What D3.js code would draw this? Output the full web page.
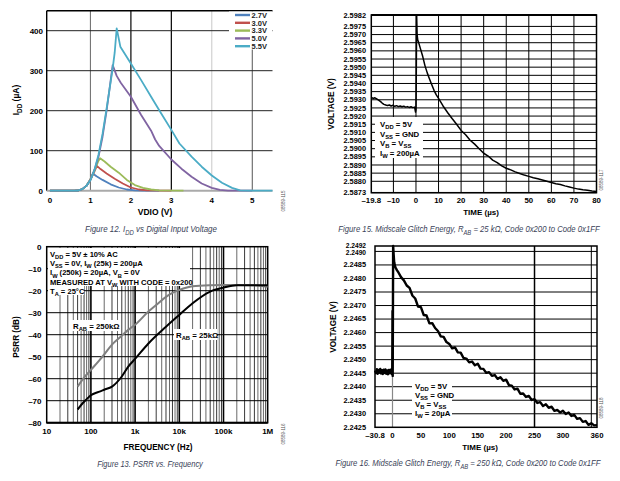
<!DOCTYPE html>
<html><head><meta charset="utf-8">
<script src="https://cdn.jsdelivr.net/npm/d3@7"></script>
<style>body{margin:0;background:#fff}svg{display:block}</style>
</head><body><svg id="c" width="620" height="481"></svg>
<script>
// ---------- Figure 12 data ----------
const legendLabels = ["2.7V","3.0V","3.3V","5.0V","5.5V"];
const vdio27 = [0,0.6,0.7,0.8,0.9,1.0,1.06,1.15,1.3,1.5,1.7,1.9,2.1,2.3,2.7];
const idd27  = [0,0,0.5,4,12,28,43,36,27,16,8,3,1,0,0];
const vdio30 = [0,0.6,0.7,0.8,0.9,1.0,1.1,1.16,1.25,1.4,1.6,1.8,2.0,2.2,2.4,3.0];
const idd30  = [0,0,0.5,4,12,28,48,62,54,43,30,18,8,3,1,0];
const vdio33 = [0,0.6,0.7,0.8,0.9,1.0,1.1,1.2,1.24,1.35,1.5,1.7,1.9,2.1,2.3,2.5,2.7,3.3];
const idd33  = [0,0,0.5,4,12,28,50,75,81,73,60,45,27,14,7,3,1,0];
const vdio50 = [0,0.6,0.7,0.8,0.9,1.0,1.1,1.2,1.3,1.4,1.5,1.55,1.65,1.75,2.0,2.25,2.5,2.6,2.7,3.0,3.25,3.5,3.75,4.0,4.2,4.4,5.0];
const idd50  = [0,0,0.5,4,12,27,52,85,135,200,275,314,287,270,235,190,150,128,112,78,55,35,18,7,2,0,0];
const vdio55 = [0,0.6,0.7,0.8,0.9,1.0,1.1,1.2,1.3,1.4,1.5,1.55,1.6,1.65,1.74,2.0,2.25,2.5,2.75,3.0,3.2,3.5,3.75,4.0,4.25,4.5,4.7,4.9,5.5];
const idd55  = [0,0,0.5,4,12,26,52,90,142,205,272,305,345,406,360,318,277,235,193,152,118,85,60,38,20,7,1,0,0];
const fig12XTicks = [0,1,2,3,4,5];
const fig12YTicks = [0,100,200,300,400];

// ---------- Figure 15 data ----------
const t25 = [-19.8,-19,-18.2,-17.4,-16.6,-15.8,-15,-14.2,-13.4,-12.6,-11.8,-11,-10.2,-9.4,-8.6,-7.8,-7,-6.2,-5.4,-4.6,-3.8,-3,-2.2,-1.4,-0.6,-0.2,0,0.1,0.3,0.5,0.8,1,2,3,4,5,6,7,8,9,10,12,14,16,18,20,22,24,26,28,30,32,34,36,38,40,42,44,46,48,50,52,54,56,58,60,62,64,66,68,70,72,74,76,78,80];
const v25 = [2.59315,2.59308,2.59312,2.59305,2.59298,2.59290,2.59280,2.59272,2.59268,2.59265,2.59268,2.59262,2.59266,2.59260,2.59264,2.59258,2.59262,2.59257,2.59261,2.59255,2.59258,2.59253,2.59257,2.59252,2.59255,2.59225,2.59240,2.59380,2.59820,2.59700,2.59665,2.59660,2.59612,2.59565,2.59508,2.59465,2.59428,2.59392,2.59358,2.59330,2.59308,2.59262,2.59222,2.59185,2.59150,2.59112,2.59085,2.59052,2.59028,2.59000,2.58972,2.58955,2.58930,2.58915,2.58895,2.58880,2.58870,2.58858,2.58848,2.58838,2.58830,2.58822,2.58815,2.58808,2.58800,2.58792,2.58785,2.58780,2.58772,2.58765,2.58758,2.58752,2.58748,2.58745,2.58740,2.58738];
const fig15XTicks = [-19.8,-10,0,10,20,30,40,50,60,70,80];
const fig15YTicks = [2.5982,2.5975,2.5970,2.5965,2.5960,2.5955,2.5950,2.5945,2.5940,2.5935,2.5930,2.5925,2.5920,2.5915,2.5910,2.5905,2.5900,2.5895,2.5890,2.5885,2.5880,2.5873];

// ---------- Figure 13 data ----------
const freq250 = [50,70,100,150,200,300,500,700,1000,2000,3000,5000,7000,10000,20000,50000,100000,200000,500000,1000000];
const psrr250 = [-63.6,-59.5,-56,-52,-49,-44.5,-40.5,-37.8,-35.5,-29.5,-26.5,-22.8,-21,-19.7,-18,-17.5,-17.4,-17.4,-17.5,-18.2];
const freq25  = [50,70,100,150,200,300,500,700,1000,2000,5000,10000,20000,50000,100000,200000,500000,1000000];
const psrr25  = [-74,-70.5,-67.5,-66,-65,-63.6,-59,-54.5,-51,-44,-36.4,-31,-25.7,-20.4,-18.6,-17.5,-17.5,-17.5];
const fig13XTicks = [10,100,1000,10000,100000,1000000];
const fig13XLabels = ["10","100","1k","10k","100k","1M"];
const fig13YTicks = [0,-10,-20,-30,-40,-50,-60,-70,-80];

// ---------- Figure 16 data ----------
const t250 = [-30.8,-29,-27.5,-26,-24.5,-23,-21.5,-20,-18.5,-17,-15.5,-14,-12.5,-11,-9.5,-8,-6.5,-5,-3.5,-2,-1,
  -0.5,0,0.4,1.2,2,3,4.5,6,8,
  10,15,20,25,30,35,40,45,50,55,60,65,70,75,80,85,90,95,100,105,110,115,120,125,130,135,140,145,150,155,160,165,170,175,180,185,190,195,200,205,210,215,220,225,230,235,240,245,250,255,260,265,270,275,280,285,290,295,300,305,310,315,320,325,330,335,340,345,350,355,360];
const v250 = [2.24460,2.24450,2.24465,2.24448,2.24462,2.24452,2.24466,2.24449,2.24461,2.24447,2.24463,2.24451,2.24464,2.24448,2.24460,2.24446,2.24462,2.24450,2.24463,2.24449,2.24458,
  2.24445,2.24680,2.24440,2.24920,2.24890,2.24860,2.24845,2.24838,2.24830,
  2.24824,2.24805,2.24793,2.24774,2.24765,2.24737,2.24726,2.24696,2.24694,2.24665,2.24663,2.24634,2.24635,2.24617,2.24606,2.24586,2.24584,2.24565,2.24558,2.24542,2.24545,2.24527,2.24526,2.24506,2.24504,2.24490,2.24493,2.24479,2.24485,2.24467,2.24466,2.24451,2.24454,2.24440,2.24443,2.24429,2.24435,2.24422,2.24426,2.24406,2.24404,2.24390,2.24393,2.24374,2.24375,2.24362,2.24366,2.24351,2.24354,2.24340,2.24343,2.24329,2.24335,2.24322,2.24326,2.24311,2.24314,2.24305,2.24311,2.24299,2.24305,2.24292,2.24296,2.24281,2.24284,2.24270,2.24273,2.24259,2.24265,2.24257,2.24258];
const fig16XTicks = [-30.8,0,50,100,150,200,250,300,360];
const fig16YTicks = [2.2492,2.2490,2.2485,2.2480,2.2475,2.2470,2.2465,2.2460,2.2455,2.2450,2.2445,2.2440,2.2435,2.2430,2.2425];

// ---------- drawing ----------
const FONT = "'Liberation Sans', Arial, sans-serif";
const svg = d3.select("#c");
svg.append("rect").attr("width",620).attr("height",481).attr("fill","#fff");

function rich(g, x, y, str, o) {
  const size = o.size || 8;
  const t = g.append("text").attr("x", o.len ? 0 : x).attr("y", o.len ? 0 : y)
    .attr("font-family", FONT).attr("font-size", size)
    .attr("font-weight", o.weight || "bold")
    .attr("text-anchor", o.anchor || "start")
    .attr("fill", o.fill || "#000");
  if (o.italic) t.attr("font-style", "italic");
  if (o.rotate) t.attr("transform", `rotate(-90,${x},${y})`);
  const parts = str.split(/(_\{[^}]*\})/).filter(p => p.length);
  let sub = false; const sh = size * 0.3;
  parts.forEach(p => {
    if (p.startsWith("_{")) {
      t.append("tspan").attr("dy", sub ? 0 : sh).attr("font-size", size * 0.75).text(p.slice(2, -1));
      sub = true;
    } else {
      t.append("tspan").attr("dy", sub ? -sh : 0).text(p);
      sub = false;
    }
  });
  if (o.len) {
    const w = t.node().getComputedTextLength();
    const s = w > 0 ? o.len / w : 1;
    t.attr("transform", `translate(${x},${y}) scale(${s},1)`);
  }
  return t;
}
function hline(g, x1, x2, y, c, w) { g.append("line").attr("x1",x1).attr("x2",x2).attr("y1",y).attr("y2",y).attr("stroke",c).attr("stroke-width",w); }
function vline(g, x, y1, y2, c, w) { g.append("line").attr("x1",x).attr("x2",x).attr("y1",y1).attr("y2",y2).attr("stroke",c).attr("stroke-width",w); }
const CAP = "#3a3f58";

// ===== Figure 12 =====
{
  const g = svg.append("g");
  const x = d3.scaleLinear().domain([-0.08, 5.5]).range([46.7, 272.5]);
  const y = d3.scaleLinear().domain([0, 450]).range([190.7, 10.7]);
  const vcols = {1:"#666",2:"#444",3:"#000",4:"#c8c8c8",5:"#555"};
  const vw = {1:1,2:1.6,3:1.2,4:1,5:1};
  fig12XTicks.filter(d => d > 0).forEach(d => vline(g, x(d), y(450), y(0), vcols[d], vw[d]));
  fig12YTicks.filter(d => d > 0).forEach(d => hline(g, x(-0.08), x(5.5), y(d), "#222", 1));
  hline(g, x(-0.08), x(5.5), y(450), "#000", 1.4);
  vline(g, x(-0.08), y(450), y(0), "#000", 1.4);
  hline(g, x(-0.08), x(5.5), y(0), "#aaa", 2);
  const series = [[vdio27,idd27],[vdio30,idd30],[vdio33,idd33],[vdio50,idd50],[vdio55,idd55]];
  const colors = ["#4f81bd","#c0504d","#9bbb59","#8064a2","#4bacc6"];
  const line = d3.line().x(d => x(d[0])).y(d => y(d[1]));
  series.forEach((s, i) => {
    g.append("path").datum(d3.zip(s[0], s[1])).attr("d", line)
      .attr("fill","none").attr("stroke", colors[i]).attr("stroke-width", 1.8).attr("stroke-linejoin","round");
  });
  // legend
  g.append("rect").attr("x", 229).attr("y", 11.5).attr("width", 43).attr("height", 38).attr("fill", "#fff");
  legendLabels.forEach((l, i) => {
    const ly = 15 + i * 7.8;
    hline(g, 235, 250, ly, colors[i], 2.4);
    g.append("text").attr("x", 251.5).attr("y", ly + 2.8).attr("font-family", FONT).attr("font-size", 7.5)
      .attr("font-weight","bold").attr("fill","#222").text(l);
  });
  fig12YTicks.forEach(d => g.append("text").attr("x", 43).attr("y", y(d) + 2.8).attr("text-anchor","end")
    .attr("font-family", FONT).attr("font-size", 8).attr("font-weight","bold").text(d));
  fig12XTicks.forEach(d => g.append("text").attr("x", x(d)).attr("y", 202.5).attr("text-anchor","middle")
    .attr("font-family", FONT).attr("font-size", 8).attr("font-weight","bold").text(d));
  rich(g, 155, 214.5, "VDIO (V)", {size: 8.5, anchor: "middle"});
  rich(g, 19, 100, "I_{DD} (µA)", {size: 8.5, anchor: "middle", rotate: true});
  rich(g, 151, 232, "Figure 12. I_{DD} vs Digital Input Voltage", {size: 8.5, weight: "normal", italic: true, anchor: "middle", len: 132, fill: CAP});
  rich(g, 285, 201, "08589-115", {size: 4.5, weight: "normal", anchor: "middle", rotate: true, fill: "#555"});
}

// ===== Figure 15 =====
{
  const g = svg.append("g");
  const x = d3.scaleLinear().domain([-19.8, 80]).range([371.3, 596.5]);
  const y = d3.scaleLinear().domain([2.5873, 2.5982]).range([192.7, 15]);
  fig15YTicks.forEach(d => hline(g, x(-19.8), x(80), y(d), "#000", 1));
  fig15XTicks.slice(1, -1).forEach(d => vline(g, x(d), y(2.5982), y(2.5873), "#000", 1));
  g.append("rect").attr("x", x(-19.8)).attr("y", y(2.5982)).attr("width", x(80) - x(-19.8)).attr("height", y(2.5873) - y(2.5982))
    .attr("fill","none").attr("stroke","#000").attr("stroke-width",1.5);
  hline(g, x(-19.8), x(80), y(2.5982), "#000", 2);
  // annotation box
  g.append("rect").attr("x", 375).attr("y", 117).attr("width", 48).attr("height", 41).attr("fill", "#fff");
  ["V_{DD} = 5V","V_{SS} = GND","V_{B} = V_{SS}","I_{W} = 200µA"].forEach((s, i) =>
    rich(g, 380, 127 + i * 9.5, s, {size: 7.8}));
  const line = d3.line().x(d => x(d[0])).y(d => y(d[1]));
  g.append("path").datum(d3.zip(t25, v25)).attr("d", line).attr("fill","none").attr("stroke","#000").attr("stroke-width",1.5).attr("stroke-linejoin","round");
  fig15YTicks.forEach(d => g.append("text").attr("x", 366).attr("y", y(d) + 2.6).attr("text-anchor","end")
    .attr("font-family", FONT).attr("font-size", 7.4).attr("font-weight","bold").text(d3.format(".4f")(d)));
  fig15XTicks.forEach(d => g.append("text").attr("x", x(d)).attr("y", 203).attr("text-anchor","middle")
    .attr("font-family", FONT).attr("font-size", 7.8).attr("font-weight","bold").text(d < 0 ? "–" + Math.abs(d) : d));
  rich(g, 481, 214.5, "TIME (µs)", {size: 8, anchor: "middle"});
  rich(g, 334, 104, "VOLTAGE (V)", {size: 8.2, anchor: "middle", rotate: true});
  rich(g, 469, 232, "Figure 15. Midscale Glitch Energy, R_{AB} = 25 kΩ, Code 0x200 to Code 0x1FF", {size: 8.5, weight: "normal", italic: true, anchor: "middle", len: 262, fill: CAP});
  rich(g, 603, 180, "08589-117", {size: 4.5, weight: "normal", anchor: "middle", rotate: true, fill: "#555"});
}

// ===== Figure 13 =====
{
  const g = svg.append("g");
  const x = d3.scaleLog().domain([10, 1e6]).range([46.7, 267.7]);
  const y = d3.scaleLinear().domain([-80, 0]).range([422.7, 246.7]);
  [10,100,1000,10000,100000].forEach(dec => {
    for (let k = 2; k <= 9; k++) vline(g, x(dec * k), y(0), y(-80), (k % 2 ? "#3a3a3a" : "#6a6a6a"), 1);
  });
  fig13XTicks.slice(1, -1).forEach(d => vline(g, x(d), y(0), y(-80), "#000", 1.6));
  fig13YTicks.slice(1, -1).forEach(d => hline(g, x(10), x(1e6), y(d), "#000", 1));
  g.append("rect").attr("x", x(10)).attr("y", y(0)).attr("width", x(1e6) - x(10)).attr("height", y(-80) - y(0))
    .attr("fill","none").attr("stroke","#000").attr("stroke-width",1.5);
  hline(g, x(10), x(1e6), y(-80), "#000", 2);
  g.append("rect").attr("x", 48).attr("y", 248).attr("width", 142).attr("height", 38).attr("fill", "#fff");
  g.append("rect").attr("x", 48).attr("y", 285).attr("width", 36).attr("height", 10).attr("fill", "#fff");
  ["V_{DD} = 5V ± 10% AC","V_{SS} = 0V, I_{W} (25k) = 200µA","I_{W} (250k) = 20µA, V_{B} = 0V","MEASURED AT V_{W} WITH CODE = 0x200","T_{A} = 25°C"]
    .forEach((s, i) => rich(g, 50, 257 + i * 9.2, s, {size: 7.6}));
  const line = d3.line().x(d => x(d[0])).y(d => y(d[1])).curve(d3.curveMonotoneX);
  g.append("path").datum(d3.zip(freq250, psrr250)).attr("d", line).attr("fill","none").attr("stroke","#7f7f7f").attr("stroke-width",2);
  g.append("path").datum(d3.zip(freq25, psrr25)).attr("d", line).attr("fill","none").attr("stroke","#000").attr("stroke-width",2);
  g.append("rect").attr("x", 71).attr("y", 320).attr("width", 49).attr("height", 11).attr("fill", "#fff");
  rich(g, 73, 328.5, "R_{AB} = 250kΩ", {size: 7.8});
  g.append("rect").attr("x", 174).attr("y", 329).attr("width", 43).attr("height", 11).attr("fill", "#fff");
  rich(g, 176, 337.5, "R_{AB} = 25kΩ", {size: 7.8});
  fig13YTicks.forEach(d => g.append("text").attr("x", 41.5).attr("y", y(d) + 2.8).attr("text-anchor","end")
    .attr("font-family", FONT).attr("font-size", 8).attr("font-weight","bold").text(d < 0 ? "–" + Math.abs(d) : d));
  fig13XTicks.forEach((d, i) => g.append("text").attr("x", x(d)).attr("y", 433.5).attr("text-anchor","middle")
    .attr("font-family", FONT).attr("font-size", 8).attr("font-weight","bold").text(fig13XLabels[i]));
  rich(g, 158, 449.5, "FREQUENCY (Hz)", {size: 8.2, anchor: "middle"});
  rich(g, 19, 337, "PSRR (dB)", {size: 8.2, anchor: "middle", rotate: true});
  rich(g, 150, 467, "Figure 13. PSRR vs. Frequency", {size: 8.5, weight: "normal", italic: true, anchor: "middle", len: 106, fill: CAP});
  rich(g, 285, 434, "08589-116", {size: 4.5, weight: "normal", anchor: "middle", rotate: true, fill: "#555"});
}

// ===== Figure 16 =====
{
  const g = svg.append("g");
  const x = d3.scaleLinear().domain([-30.8, 360]).range([375, 597]);
  const y = d3.scaleLinear().domain([2.2425, 2.2492]).range([427.3, 246]);
  fig16YTicks.slice(1, -1).forEach(d => hline(g, x(-30.8), x(360), y(d), "#000", 1));
  vline(g, x(0), y(2.2492), y(2.2425), "#888", 1.2);
  vline(g, x(250), y(2.2492), y(2.2425), "#000", 1.5);
  vline(g, x(350), y(2.2492), y(2.2425), "#000", 1);
  g.append("rect").attr("x", x(-30.8)).attr("y", y(2.2492)).attr("width", x(360) - x(-30.8)).attr("height", y(2.2425) - y(2.2492))
    .attr("fill","none").attr("stroke","#000").attr("stroke-width",1.5);
  const line = d3.line().x(d => x(d[0])).y(d => y(d[1]));
  g.append("path").datum(d3.zip(t250, v250)).attr("d", line).attr("fill","none").attr("stroke","#000").attr("stroke-width",2.4).attr("stroke-linejoin","round");
  g.append("rect").attr("x", 412).attr("y", 378).attr("width", 40).attr("height", 40).attr("fill", "#fff");
  ["V_{DD} = 5V","V_{SS} = GND","V_{B} = V_{SS}","I_{W} = 20µA"].forEach((s, i) =>
    rich(g, 415, 388.5 + i * 9, s, {size: 7.8}));
  const yOff = {2.2492: -0.8, 2.249: 1.6};
  fig16YTicks.forEach(d => g.append("text").attr("x", 366).attr("y", y(d) + 2.4 + (yOff[d] || 0)).attr("text-anchor","end")
    .attr("font-family", FONT).attr("font-size", d === 2.2492 || d === 2.249 ? 6.6 : 7.4).attr("font-weight","bold").text(d3.format(".4f")(d)));
  fig16XTicks.forEach(d => g.append("text").attr("x", x(d)).attr("y", 438).attr("text-anchor","middle")
    .attr("font-family", FONT).attr("font-size", 7.8).attr("font-weight","bold").text(d < 0 ? "–" + Math.abs(d) : d));
  rich(g, 480, 450, "TIME (µs)", {size: 8, anchor: "middle"});
  rich(g, 336, 327, "VOLTAGE (V)", {size: 8.2, anchor: "middle", rotate: true});
  rich(g, 468, 466, "Figure 16. Midscale Glitch Energy, R_{AB} = 250 kΩ, Code 0x200 to Code 0x1FF", {size: 8.5, weight: "normal", italic: true, anchor: "middle", len: 265, fill: CAP});
  rich(g, 603, 408, "08589-118", {size: 4.5, weight: "normal", anchor: "middle", rotate: true, fill: "#555"});
}
</script></body></html>
